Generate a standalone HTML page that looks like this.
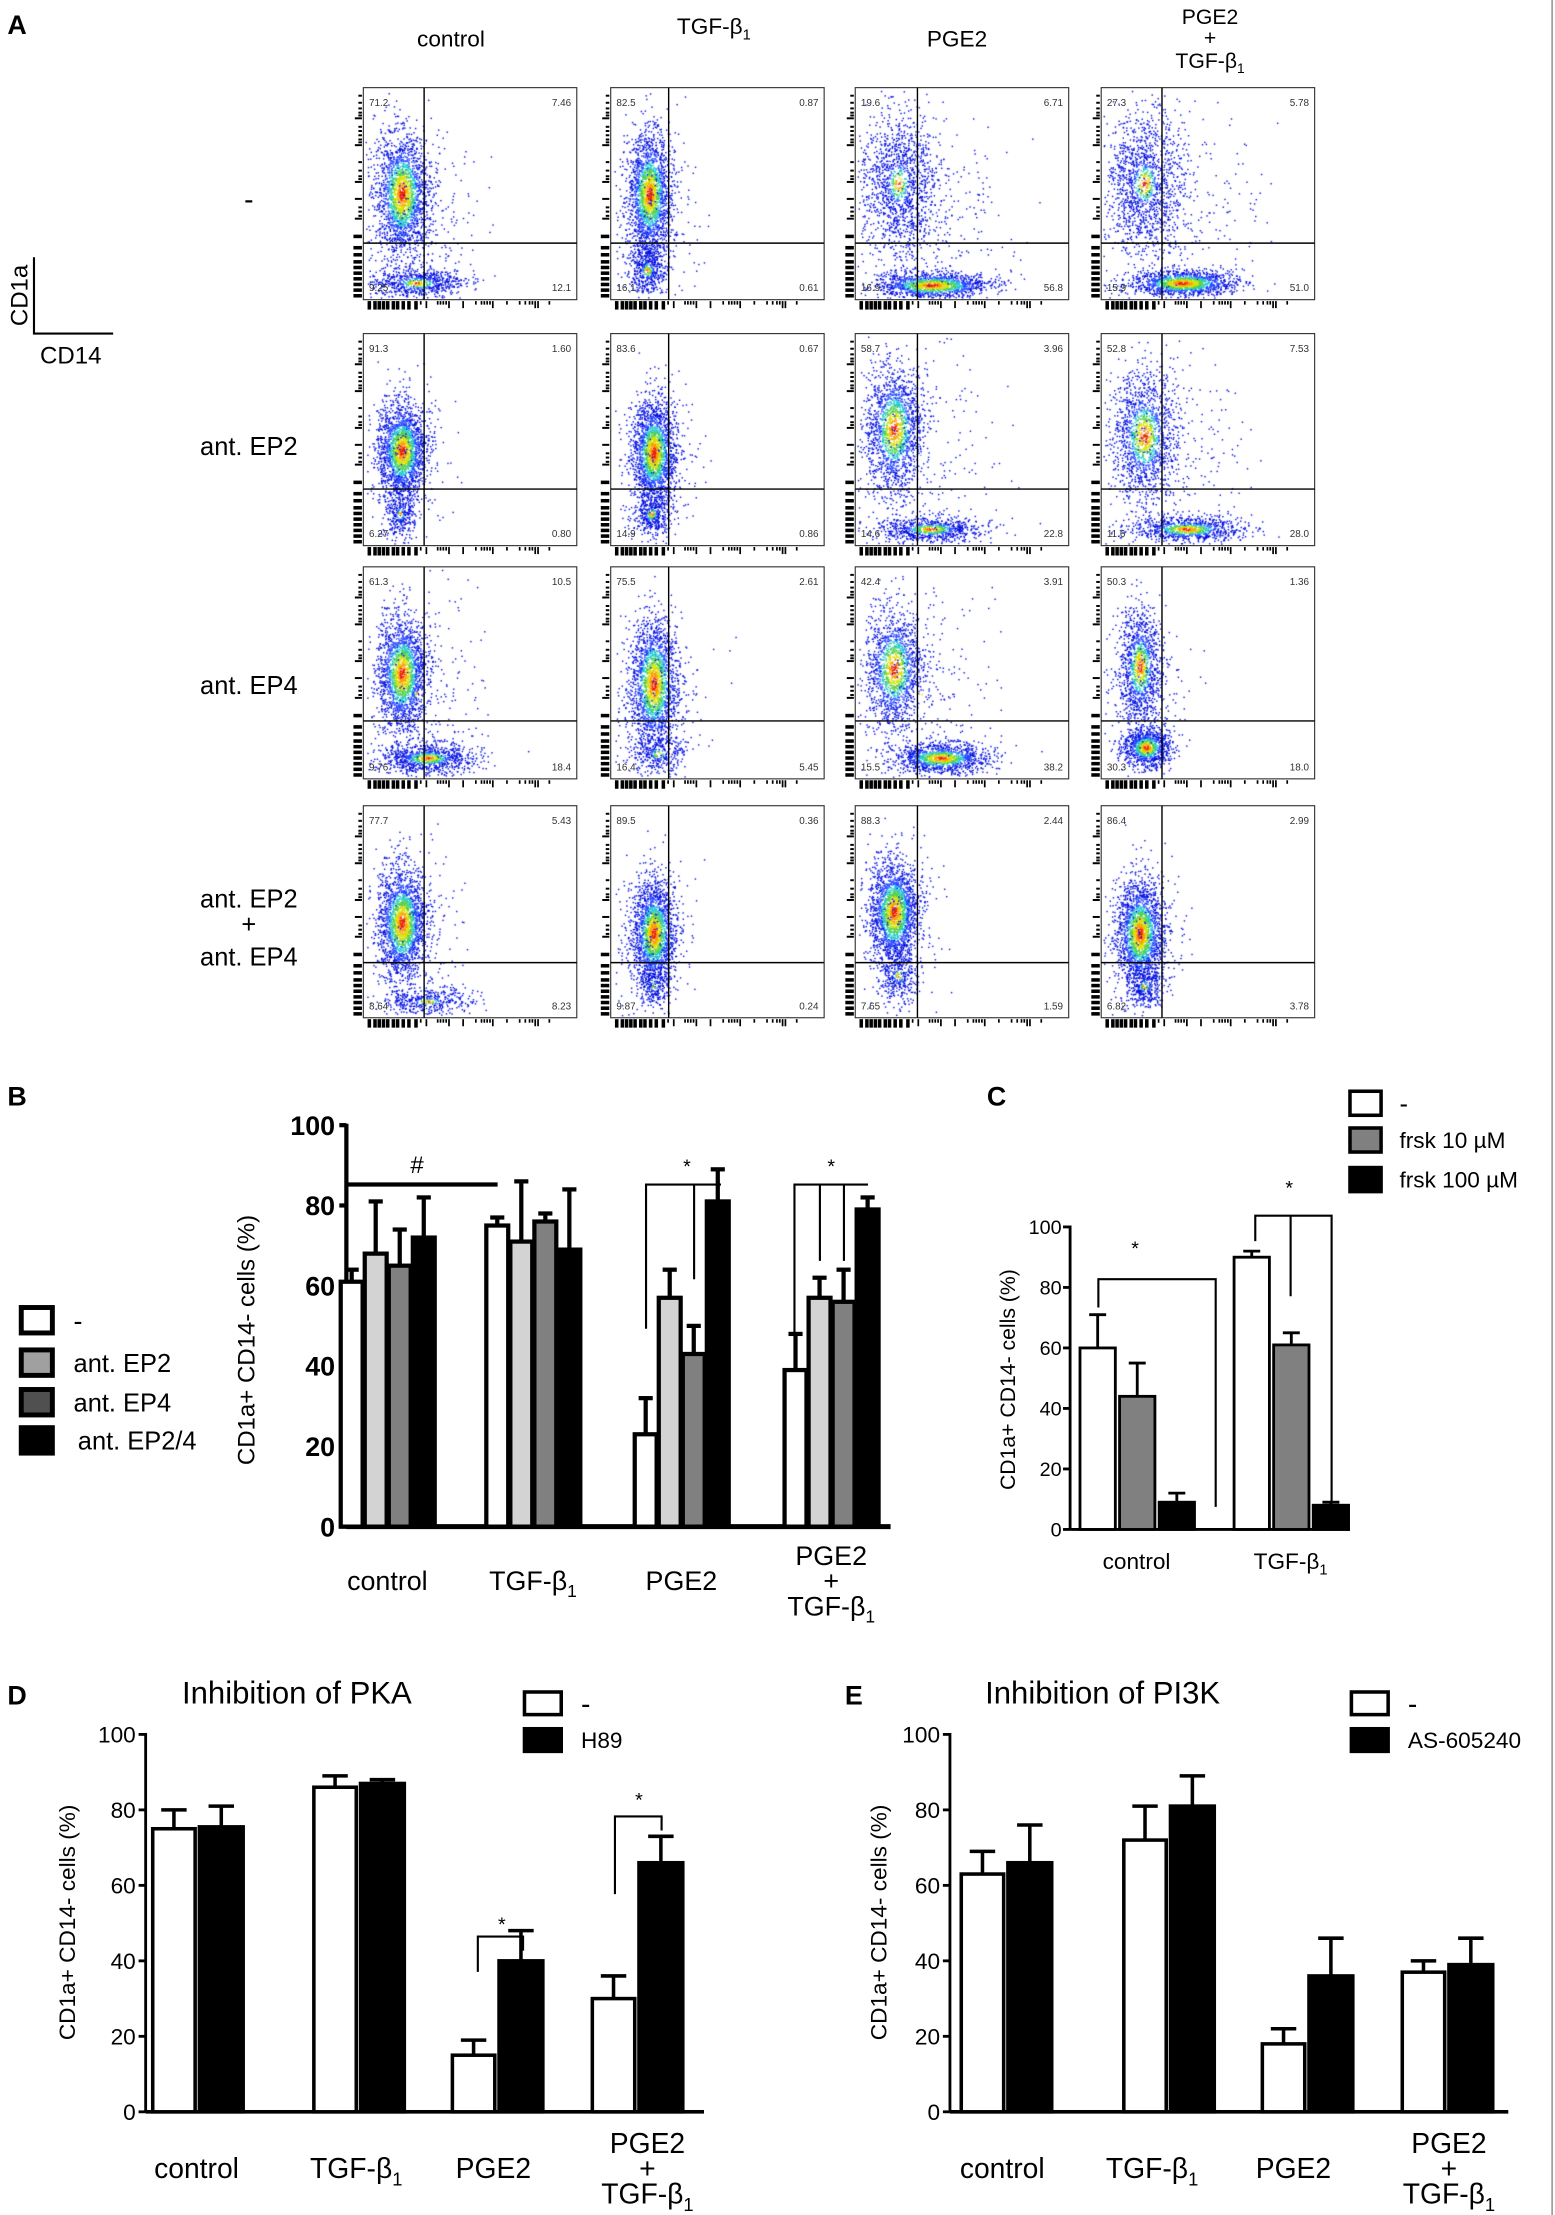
<!DOCTYPE html>
<html><head><meta charset="utf-8"><style>
html,body{margin:0;padding:0;background:#fff}
#wrap{position:relative;width:1555px;height:2215px;overflow:hidden}
canvas,svg{position:absolute;left:0;top:0}
text{font-family:"Liberation Sans",sans-serif}
</style></head><body>
<div id="wrap">
<canvas id="cv" width="1555" height="2215"></canvas>
<svg id="sv" width="1555" height="2215" viewBox="0 0 1100 1567"></svg>
</div>
<script>
// ---------- Panel B data ----------
const bCats = ["control","TGF-β1","PGE2","PGE2+TGF-β1"];
const bMinus = [61,75,23,39];
const bMinusErr = [64,77,32,48];
const bEP2 = [68,71,57,57];
const bEP2Err = [81,86,64,62];
const bEP4 = [65,76,43,56];
const bEP4Err = [74,78,50,64];
const bEP24 = [72,69,81,79];
const bEP24Err = [82,84,89,82];
const bTicks = [0,20,40,60,80,100];
// ---------- Panel C data ----------
const cCats = ["control","TGF-β1"];
const cMinus = [60,90];
const cMinusErr = [71,92];
const cF10 = [44,61];
const cF10Err = [55,65];
const cF100 = [9,8];
const cF100Err = [12,9];
const cTicks = [0,20,40,60,80,100];
// ---------- Panel D data ----------
const dCats = ["control","TGF-β1","PGE2","PGE2+TGF-β1"];
const dMinus = [75,86,15,30];
const dMinusErr = [80,89,19,36];
const dH89 = [75.5,87,40,66];
const dH89Err = [81,88,48,73];
// ---------- Panel E data ----------
const eCats = ["control","TGF-β1","PGE2","PGE2+TGF-β1"];
const eMinus = [63,72,18,37];
const eMinusErr = [69,81,22,40];
const eAS = [66,81,36,39];
const eASErr = [76,89,46,46];
const deTicks = [0,20,40,60,80,100];
// ---------- Panel A quadrant values ----------
const qVals = [
 [["71.2","7.46","9.25","12.1"],["82.5","0.87","16.1","0.61"],["19.6","6.71","16.9","56.8"],["27.3","5.78","15.9","51.0"]],
 [["91.3","1.60","6.27","0.80"],["83.6","0.67","14.9","0.86"],["58.7","3.96","14.6","22.8"],["52.8","7.53","11.6","28.0"]],
 [["61.3","10.5","9.76","18.4"],["75.5","2.61","16.4","5.45"],["42.4","3.91","15.5","38.2"],["50.3","1.36","30.3","18.0"]],
 [["77.7","5.43","8.64","8.23"],["89.5","0.36","9.87","0.24"],["88.3","2.44","7.65","1.59"],["86.4","2.99","6.82","3.78"]]
];

const NS="http://www.w3.org/2000/svg";
const sv=document.getElementById('sv');
function el(tag,attrs,parent,txt){const e=document.createElementNS(NS,tag);for(const k in attrs)e.setAttribute(k,attrs[k]);if(txt!==undefined)e.textContent=txt;(parent||sv).appendChild(e);return e;}
function grp(name){const g=el('g',{});return g;}
function txt(g,x,y,s,size,opts){opts=opts||{};const t=el('text',Object.assign({x:x,y:y,'font-size':size,'text-anchor':opts.anchor||'middle',fill:'#000'},opts.extra||{}),g);
 if(s.indexOf('β1')>=0){const p=s.split('β1');t.textContent=p[0]+'β';el('tspan',{'font-size':size*0.65,dy:size*0.25},t,'1');}else t.textContent=s;
 return t;}

el('line',{x1:1098,y1:0,x2:1098,y2:1567,stroke:'#888','stroke-width':1});

// ---------- Panel A ----------
const gA=grp('panel-a');
txt(gA,12,24,'A',19,{extra:{'font-weight':'bold'}, name:'panel-label-a'});
const colX=[257,432,605,779], rowY=[62,236,401,570], BW=151, BH=150;
const colHead=[['control'],['TGF-β1'],['PGE2'],['PGE2','+','TGF-β1']];
colHead.forEach((h,i)=>{const cx=colX[i]+(i==0?62:i==1?73:72)+ (i==3?5:0);
 if(h.length==1) txt(gA,cx,h[0]=='TGF-β1'?24:33,h[0],16,{name:'column-header'});
 else {txt(gA,cx,17,h[0],15,{name:'column-header'});txt(gA,cx,32,h[1],15,{name:'column-header'});txt(gA,cx,48,h[2],15,{name:'column-header'});}
});
const rowLab=[['-'],['ant. EP2'],['ant. EP4'],['ant. EP2','+','ant. EP4']];
const rowLY=[[148],[322],[491],[642,660,683]];
rowLab.forEach((r,i)=>r.forEach((s,j)=>txt(gA,176,rowLY[i][j],s,s=='-'?20:18,{name:'row-label'})));
el('path',{d:'M24 182 V236 H80',fill:'none',stroke:'#000','stroke-width':1.5},gA);
txt(gA,15,209,'CD1a',17,{extra:{transform:'rotate(-90 15 209)','dominant-baseline':'middle'},name:'cd1a-axis-label'});
txt(gA,50,257,'CD14',17,{name:'cd14-axis-label'});
const qx=[43,41,44,43], qy=[110,110,109,111];
for(let r=0;r<4;r++)for(let c=0;c<4;c++){
 const x=colX[c],y=rowY[r];const g=grp('flow-plot');
 el('rect',{x:x,y:y,width:BW,height:BH,fill:'none',stroke:'#333','stroke-width':0.8},g);
 el('line',{x1:x+qx[c],y1:y,x2:x+qx[c],y2:y+BH,stroke:'#000','stroke-width':1},g);
 el('line',{x1:x,y1:y+qy[r],x2:x+BW,y2:y+qy[r],stroke:'#000','stroke-width':1},g);
 const v=qVals[r][c];
 el('text',{x:x+4,y:y+13,'font-size':7,fill:'#333'},g,v[0]);
 el('text',{x:x+BW-4,y:y+13,'font-size':7,fill:'#333','text-anchor':'end'},g,v[1]);
 el('text',{x:x+4,y:y+BH-6,'font-size':7,fill:'#333'},g,v[2]);
 el('text',{x:x+BW-4,y:y+BH-6,'font-size':7,fill:'#333','text-anchor':'end'},g,v[3]);
 const lt=[5,10,14,17,19,21,27,30,33,36,38,40,52,58,62,64,66,78,84,87,90,92,104,112,117,122,126,130,134,138,142,146];
 lt.forEach((t,i)=>{const L=(t>100)?6:((i%6==5||t==66||t==92||t==40)?5:2.5);el('rect',{x:x-L-1,y:y+t,width:L,height:(t>100?2.5:1.4),fill:'#000'},g);});
 const bt=[3,7,10,13,16,20,23,27,31,36,40,44,52,54,56,58,60,70,79,83,85,87,89,91,101,110,114,117,119,121,123,131];
 bt.forEach((t,i)=>{const L=(t<40)?6:((i%6==5||t==60||t==91||t==123)?5:2.5);el('rect',{x:x+t,y:y+BH+1,width:(t<40?2.5:1.2),height:L,fill:'#000'},g);});
}
const cv=document.getElementById('cv'),ctx=cv.getContext('2d');const S=1555/1100;ctx.scale(S,S);
let seed=12345;function rnd(){seed=(seed*1103515245+12345)%2147483648;return seed/2147483648;}
function gauss(){let u=rnd()||1e-6,v=rnd();return Math.sqrt(-2*Math.log(u))*Math.cos(2*Math.PI*v);}
const pal=['#e82000','#ff9a00','#d8e000','#50d050','#20c8d0','#2848ff','#0010e0'];
const thr=[0.25,0.45,0.7,0.95,1.2,1.6];
const clusters=[
 [[[.18,.5,.06,.14,2000,.9],[.25,.92,.11,.035,700,.5],[.25,.6,.15,.2,300,.1]],[[.18,.5,.05,.14,2000,.9],[.17,.86,.045,.06,500,.4],[.2,.6,.1,.2,200,.1]],[[.2,.45,.09,.17,1300,.35],[.36,.93,.13,.03,1400,.9],[.35,.6,.2,.25,300,.1]],[[.2,.45,.09,.16,1300,.4],[.38,.92,.12,.03,1400,.9],[.35,.6,.2,.25,300,.1]]],
 [[[.18,.55,.055,.11,2000,.9],[.17,.85,.035,.06,300,.35],[.2,.6,.1,.2,200,.1]],[[.2,.56,.05,.12,2000,.9],[.19,.85,.045,.05,400,.4],[.22,.6,.1,.2,200,.1]],[[.18,.45,.065,.15,1600,.8],[.35,.92,.12,.03,800,.6],[.3,.6,.18,.25,300,.1]],[[.2,.48,.075,.15,1400,.7],[.4,.92,.13,.03,900,.7],[.3,.6,.18,.25,300,.1]]],
 [[[.18,.5,.055,.13,1900,.9],[.3,.9,.11,.035,900,.6],[.25,.6,.15,.25,300,.1]],[[.2,.55,.055,.15,2000,.9],[.22,.88,.065,.045,300,.35],[.22,.6,.12,.2,200,.1]],[[.18,.48,.065,.14,1400,.8],[.4,.9,.11,.035,1200,.8],[.3,.6,.18,.25,300,.1]],[[.18,.47,.05,.14,1200,.7],[.21,.85,.055,.045,1000,.8],[.2,.6,.1,.2,200,.1]]],
 [[[.18,.55,.055,.13,2000,.9],[.3,.92,.11,.03,400,.35],[.22,.6,.12,.2,200,.1]],[[.2,.6,.05,.12,2000,.9],[.2,.85,.035,.05,200,.35],[.2,.6,.1,.2,200,.1]],[[.18,.5,.055,.12,2000,.9],[.2,.8,.045,.06,300,.35],[.2,.6,.1,.2,200,.1]],[[.18,.6,.055,.12,2000,.9],[.2,.85,.045,.05,300,.35],[.2,.6,.1,.2,200,.1]]]
];
for(let r=0;r<4;r++)for(let c=0;c<4;c++){const x0=colX[c],y0=rowY[r];
 clusters[r][c].forEach(cl=>{const[cx,cy,sx,sy,n,heat]=cl;
  for(let i=0;i<n;i++){const gx=gauss(),gy=gauss();const d=Math.sqrt(gx*gx+gy*gy)/heat;
   let px=cx+gx*sx,py=cy+gy*sy;if(px<0.01||px>0.99||py<0.01||py>0.99)continue;
   let k=6;for(let t=0;t<thr.length;t++){if(d<thr[t]){k=t;break;}}
   ctx.fillStyle=pal[k];ctx.fillRect(x0+px*BW,y0+py*BH,1,1);}
 });}

function axisY(y0,y100){return v=>y0-(y0-y100)*v/100;}
function bar(g,x,w,v,err,fill,Y,sw,cap,name){
 const b=el('rect',{x:x,y:Y(v),width:w,height:Y(0)-Y(v),fill:fill,stroke:'#000','stroke-width':sw},g);
 
 el('line',{x1:x+w/2,y1:Y(v),x2:x+w/2,y2:Y(err),stroke:'#000','stroke-width':sw},g);
 el('line',{x1:x+w/2-cap,y1:Y(err),x2:x+w/2+cap,y2:Y(err),stroke:'#000','stroke-width':sw},g);
}
function yAxis(g,ax,Y,ticks,size,bold,dx){
 el('line',{x1:ax,y1:Y(100)-1,x2:ax,y2:Y(0),stroke:'#000','stroke-width':bold?3:2},g);
 ticks.forEach(t=>{el('line',{x1:ax-5,y1:Y(t),x2:ax,y2:Y(t),stroke:'#000','stroke-width':bold?3:2},g);
  const tt=el('text',{x:ax-dx,y:Y(t)+size*0.36,'font-size':size,'text-anchor':'end','font-weight':bold?'bold':'normal',fill:'#000'},g,String(t));
  });
}
function catLabel(g,x,y,cat,size,lh){
 if(cat.indexOf('+')>0){const p=cat.split('+');txt(g,x,y-lh,p[0],size,{name:'x-category-label'});txt(g,x,y,'+',size,{name:'x-category-label'});txt(g,x,y+lh,p[1],size,{name:'x-category-label'});}
 else txt(g,x,y,cat,size,{name:'x-category-label'});
}
function legend(g,x,y,w,h,fill,label,tx,size,sw){const r=el('rect',{x:x,y:y,width:w,height:h,fill:fill,stroke:'#000','stroke-width':sw},g);txt(g,tx,y+h/2+size*0.36,label,size,{anchor:'start',name:'legend-label'});}

(function(){const g=grp('panel-b');const Y=axisY(1080,796);
 txt(g,12,782,'B',19,{extra:{'font-weight':'bold'},name:'panel-label-b'});
 yAxis(g,245,Y,bTicks,19,true,8);
 el('line',{x1:245,y1:Y(0),x2:630,y2:Y(0),stroke:'#000','stroke-width':3.5},g);
 const gx=[241,344,449,555],bw=15.5,step=17;
 const series=[[bMinus,bMinusErr,'#fff'],[bEP2,bEP2Err,'#d3d3d3'],[bEP4,bEP4Err,'#808080'],[bEP24,bEP24Err,'#000']];
 bCats.forEach((c,i)=>{series.forEach((s,j)=>bar(g,gx[i]+j*step,bw,s[0][i],s[1][i],s[2],Y,3,5,'bar-b'));
  catLabel(g,gx[i]+33,1125,c,19,18);});
 el('line',{x1:245,y1:838,x2:352,y2:838,stroke:'#000','stroke-width':3},g);txt(g,295,830,'#',17,{name:'sig-hash'});
 el('path',{d:'M457 940 V838 H510 M491 838 V905',fill:'none',stroke:'#000','stroke-width':1.5},g);txt(g,486,830,'*',14,{name:'sig-star'});
 el('path',{d:'M562 944 V838 H614 M580 838 V892 M597 838 V892',fill:'none',stroke:'#000','stroke-width':1.5},g);txt(g,588,830,'*',14,{name:'sig-star'});
 txt(g,180,948,'CD1a+ CD14- cells (%)',17,{extra:{transform:'rotate(-90 180 948)'},name:'y-axis-title'});
 legend(g,15,925,22,18,'#fff','-',52,19,3.5);legend(g,15,955,22,18,'#a0a0a0','ant. EP2',52,18,3.5);
 legend(g,15,983,22,18,'#505050','ant. EP4',52,18,3.5);legend(g,15,1010,22,18,'#000','ant. EP2/4',55,18,3.5);
})();

(function(){const g=grp('panel-c');const Y=axisY(1082,868);
 txt(g,705,782,'C',19,{extra:{'font-weight':'bold'},name:'panel-label-c'});
 yAxis(g,757,Y,cTicks,14,false,6);
 el('line',{x1:757,y1:Y(0),x2:955,y2:Y(0),stroke:'#000','stroke-width':2},g);
 const gx=[764,873],bw=25,step=28;
 const series=[[cMinus,cMinusErr,'#fff'],[cF10,cF10Err,'#808080'],[cF100,cF100Err,'#000']];
 cCats.forEach((c,i)=>{series.forEach((s,j)=>bar(g,gx[i]+j*step,bw,s[0][i],s[1][i],s[2],Y,2,6,'bar-c'));
  txt(g,gx[i]+40,1110,c,16,{name:'x-category-label'});});
 el('path',{d:'M777 925 V905 H860 V1066',fill:'none',stroke:'#000','stroke-width':1.5},g);txt(g,803,888,'*',14,{name:'sig-star'});
 el('path',{d:'M888 878 V860 H942 V1062 M913 860 V917',fill:'none',stroke:'#000','stroke-width':1.5},g);txt(g,912,845,'*',14,{name:'sig-star'});
 txt(g,718,976,'CD1a+ CD14- cells (%)',15,{extra:{transform:'rotate(-90 718 976)'},name:'y-axis-title'});
 legend(g,955,772,22,17,'#fff','-',990,18,2.5);legend(g,955,798,22,17,'#808080','frsk 10 µM',990,16,2.5);legend(g,955,826,22,17,'#000','frsk 100 µM',990,16,2.5);
})();

function pairPanel(name,label,lx,title,tx,ax,gx,cats,a,aErr,b,bErr,legX,legLab,ylx,labX){
 const g=grp(name);const Y=axisY(1494,1227);
 txt(g,lx,1206,label,19,{extra:{'font-weight':'bold'},name:'panel-label'});
 txt(g,tx,1205,title,22,{name:'chart-title'});
 yAxis(g,ax,Y,deTicks,16,false,7);
 el('line',{x1:ax,y1:Y(0),x2:ax+395,y2:Y(0),stroke:'#000','stroke-width':2.5},g);
 cats.forEach((c,i)=>{bar(g,gx[i],30,a[i],aErr[i],'#fff',Y,2.5,9,'bar-white');bar(g,gx[i]+33,31,b[i],bErr[i],'#000',Y,2.5,9,'bar-black');
  catLabel(g,labX[i],1541,c,20,18);});
 txt(g,ylx,1360,'CD1a+ CD14- cells (%)',16,{extra:{transform:'rotate(-90 '+ylx+' 1360)'},name:'y-axis-title'});
 legend(g,legX,1197,26,16,'#fff','-',legX+40,20,2.5);legend(g,legX,1223,26,16,'#000',legLab,legX+40,16,2.5);
 return g;}
const gD=pairPanel('panel-d','D',12,'Inhibition of PKA',210,103,[108,222,320,419],dCats,dMinus,dMinusErr,dH89,dH89Err,371,'H89',53,[139,252,349,458]);
el('path',{d:'M338 1395 V1370 H370 V1380',fill:'none',stroke:'#000','stroke-width':1.5},gD);txt(gD,355,1366,'*',14,{name:'sig-star'});
el('path',{d:'M435 1340 V1285 H468 V1295',fill:'none',stroke:'#000','stroke-width':1.5},gD);txt(gD,452,1278,'*',14,{name:'sig-star'});
pairPanel('panel-e','E',604,'Inhibition of PI3K',780,672,[680,795,893,992],eCats,eMinus,eMinusErr,eAS,eASErr,956,'AS-605240',627,[709,815,915,1025]);
</script>
</body></html>
